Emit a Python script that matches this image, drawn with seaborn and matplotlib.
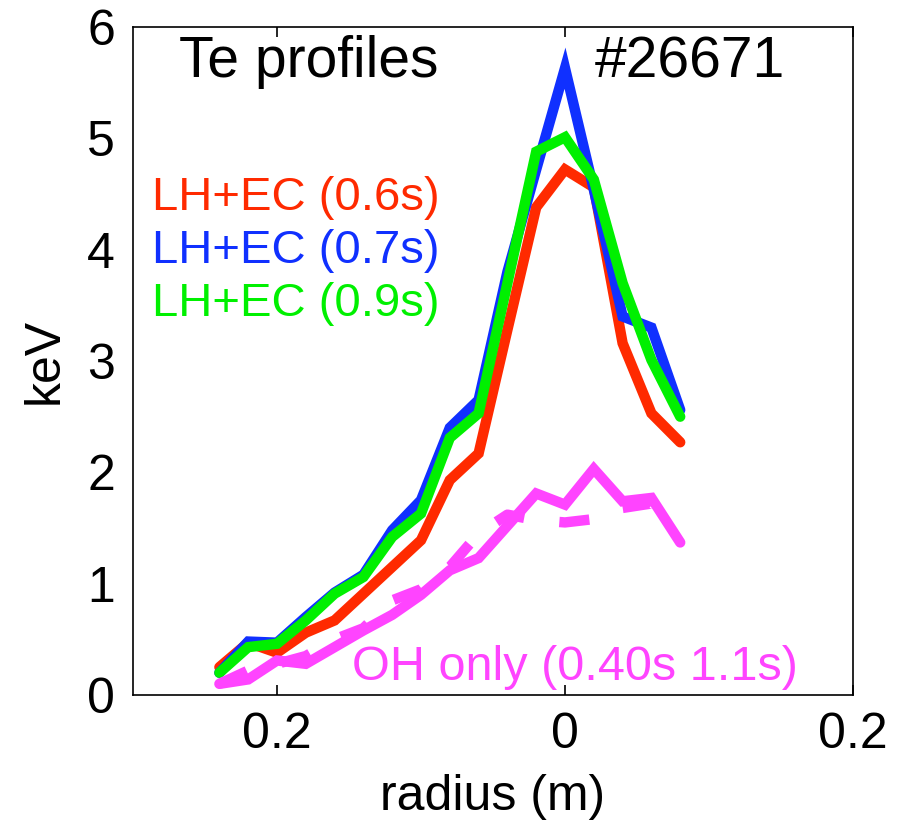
import matplotlib
matplotlib.use("Agg")
import matplotlib.pyplot as plt
import seaborn as sns
import pandas as pd

# ---- data ----
radius = [-0.24, -0.22, -0.20, -0.18, -0.16, -0.14, -0.12, -0.10, -0.08,
          -0.06, -0.04, -0.02, 0.00, 0.02, 0.04, 0.06, 0.08]
te_06 = [0.25, 0.47, 0.38, 0.56, 0.67, 0.91, 1.15, 1.39, 1.93, 2.17,
         3.28, 4.38, 4.72, 4.56, 3.16, 2.53, 2.27]
te_07 = [0.20, 0.48, 0.47, 0.70, 0.92, 1.08, 1.48, 1.75, 2.40, 2.65,
         3.80, 4.72, 5.63, 4.54, 3.40, 3.30, 2.56]
te_09 = [0.20, 0.43, 0.46, 0.67, 0.91, 1.06, 1.42, 1.63, 2.31, 2.53,
         3.70, 4.88, 5.01, 4.63, 3.70, 3.01, 2.50]
te_oh_040 = [0.10, 0.14, 0.31, 0.28, 0.43, 0.58, 0.72, 0.90, 1.12, 1.23,
             1.52, 1.81, 1.71, 2.03, 1.74, 1.77, 1.37]
te_oh_11 = [0.10, 0.22, 0.28, 0.35, 0.50, 0.60, 0.85, 0.95, 1.15, 1.45,
            1.62, 1.57, 1.55, 1.58, 1.68, 1.72, 1.52]

x_ticks = [-0.2, 0.0, 0.2]
x_tick_labels = ["0.2", "0", "0.2"]
y_ticks = [0, 1, 2, 3, 4, 5, 6]

RED = "#ff2a00"
BLUE = "#1030ff"
GREEN = "#00f000"
MAGENTA = "#ff44ff"

sns.set_style("white")
plt.rcParams["font.family"] = ["Liberation Sans", "DejaVu Sans"]
plt.rcParams["text.color"] = "black"
plt.rcParams["axes.labelcolor"] = "black"
plt.rcParams["xtick.color"] = "black"
plt.rcParams["ytick.color"] = "black"

fig = plt.figure(figsize=(9.13, 8.31), dpi=100)
ax = fig.add_axes([133 / 913, 1 - 695 / 831, 720 / 913, 668 / 831])

df = pd.DataFrame({"r": radius, "a": te_06, "b": te_07, "c": te_09,
                   "d": te_oh_040, "e": te_oh_11})
lw = 7.5
sns.lineplot(data=df, x="r", y="a", ax=ax, color=RED, lw=lw, sort=False,
             estimator=None, solid_joinstyle="miter")
sns.lineplot(data=df, x="r", y="b", ax=ax, color=BLUE, lw=lw, sort=False,
             estimator=None, solid_joinstyle="miter")
sns.lineplot(data=df, x="r", y="c", ax=ax, color=GREEN, lw=lw, sort=False,
             estimator=None, solid_joinstyle="miter")
sns.lineplot(data=df, x="r", y="e", ax=ax, color=MAGENTA, lw=lw, sort=False,
             estimator=None, dashes=False, linestyle=(0, (2.9, 3.4)))
sns.lineplot(data=df, x="r", y="d", ax=ax, color=MAGENTA, lw=lw, sort=False,
             estimator=None, solid_joinstyle="miter")

ax.set_xlim(-0.3, 0.2)
ax.set_ylim(0, 6)
ax.set_xticks(x_ticks)
ax.set_xticklabels(x_tick_labels)
ax.set_yticks(y_ticks)
ax.tick_params(axis="x", direction="in", length=7, width=1.2, top=True,
               bottom=True, labelsize=36, pad=12, colors="black")
ax.tick_params(axis="y", length=0, labelsize=36, pad=13, colors="black")
for s in ax.spines.values():
    s.set_visible(True)
    s.set_color("black")
    s.set_linewidth(1.2)

ax.set_xlabel("radius (m)", fontsize=36, labelpad=12, color="black")
ax.set_ylabel("keV", fontsize=36, labelpad=14, color="black")

ax.text(-0.268, 5.55, "Te profiles", fontsize=41, va="baseline", ha="left",
        color="black")
ax.text(0.021, 5.55, "#26671", fontsize=41, va="baseline", ha="left",
        color="black")
ax.text(-0.287, 4.36, "LH+EC (0.6s)", fontsize=34, color=RED,
        va="baseline", ha="left")
ax.text(-0.287, 3.88, "LH+EC (0.7s)", fontsize=34, color=BLUE,
        va="baseline", ha="left")
ax.text(-0.287, 3.40, "LH+EC (0.9s)", fontsize=34, color=GREEN,
        va="baseline", ha="left")
ax.text(-0.1476, 0.135, "OH only (0.40s 1.1s)", fontsize=35, color=MAGENTA,
        va="baseline", ha="left")

fig.savefig("out.png", dpi=100, facecolor="white")
